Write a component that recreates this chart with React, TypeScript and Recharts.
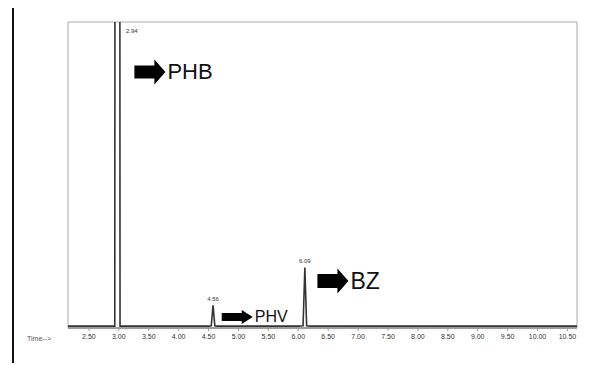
import { LineChart, Line, XAxis, YAxis, ReferenceArea, ReferenceDot } from "recharts"

// retention time (min) and detector response (% of plot height)
const times = [
  2.15, 2.5, 2.9, 2.932, 2.936, 3.016, 3.02, 3.04, 3.5, 4.0, 4.5, 4.545, 4.575, 4.605, 4.64,
  5.0, 5.5, 6.0, 6.08, 6.11, 6.14, 6.2, 7.0, 8.0, 9.0, 10.0, 10.66,
]
const response = [
  0.6, 0.6, 0.6, 0.6, 160, 160, 0.6, 0.6, 0.6, 0.6, 0.6, 0.7, 7.4, 0.7, 0.6,
  0.6, 0.6, 0.6, 0.7, 19.8, 0.7, 0.6, 0.6, 0.6, 0.6, 0.6, 0.6,
]

const xTicks = [2.5, 3.0, 3.5, 4.0, 4.5, 5.0, 5.5, 6.0, 6.5, 7.0, 7.5, 8.0, 8.5, 9.0, 9.5, 10.0, 10.5]

const peaks = [
  { t: 3.02, label: "2.94", y: 97 },
  { t: 4.575, label: "4.56", y: 7.4 },
  { t: 6.11, label: "6.09", y: 19.8 },
]

const compounds = [
  { name: "PHB", t: 3.26, y: 83.7, size: 22, head: 12.5, body: 6.5 },
  { name: "PHV", t: 4.72, y: 3.6, size: 16, head: 7, body: 4 },
  { name: "BZ", t: 6.32, y: 15.4, size: 23, head: 12.5, body: 7 },
]

const data = times.map((t, i) => ({ t, v: response[i] }))

const FONT = '"Liberation Sans", Arial, sans-serif'

function arrowShape(name: string, size: number, head: number, body: number) {
  return (props: any) => {
    const { cx, cy } = props
    const len = 31
    const neck = cx + 20
    const d = `M${cx},${cy - body} L${neck},${cy - body} L${neck},${cy - head} L${cx + len},${cy} L${neck},${cy + head} L${neck},${cy + body} L${cx},${cy + body} Z`
    return (
      <g>
        <path d={d} fill="#000" />
        <text x={cx + len + 2} y={cy} dominantBaseline="central" fontSize={size} fontFamily={FONT} fill="#111">
          {name}
        </text>
      </g>
    )
  }
}

export default function App() {
  return (
    <div style={{ position: "absolute", left: 0, top: 0, width: 599, height: 365, background: "#fff" }}>
      <div style={{ position: "absolute", left: 12, top: 8, width: 2, height: 355, background: "#111" }} />
      <div
        style={{
          position: "absolute",
          left: 27,
          top: 335,
          fontSize: 7,
          fontFamily: FONT,
          color: "#555",
        }}
      >
        Time--&gt;
      </div>
      <LineChart width={599} height={365} data={data} margin={{ top: 22, right: 22, bottom: 17, left: 68 }}>
        <XAxis
          dataKey="t"
          type="number"
          domain={[2.15, 10.66]}
          ticks={xTicks}
          allowDataOverflow
          height={20}
          tickSize={3}
          tickMargin={3}
          tickFormatter={(v: number) => v.toFixed(2)}
          tick={{ fontSize: 7, fill: "#333", fontFamily: FONT }}
          axisLine={{ stroke: "#666" }}
          tickLine={{ stroke: "#999" }}
        />
        <YAxis hide domain={[0, 100]} allowDataOverflow />
        <ReferenceArea x1={2.15} x2={10.66} y1={0} y2={100} fill="none" stroke="#aaa" strokeWidth={1} />
        <Line
          dataKey="v"
          type="linear"
          stroke="#333"
          strokeWidth={1.6}
          dot={false}
          isAnimationActive={false}
        />
        {peaks.map((p) => (
          <ReferenceDot
            key={p.label}
            x={p.t}
            y={p.y}
            r={0}
            stroke="none"
            label={{
              value: p.label,
              position: p.t < 3.1 ? "right" : "top",
              offset: p.t < 3.1 ? 6 : 4,
              fontSize: 6,
              fill: "#333",
              fontFamily: FONT,
            }}
          />
        ))}
        {compounds.map((c) => (
          <ReferenceDot
            key={c.name}
            x={c.t}
            y={c.y}
            r={0}
            shape={arrowShape(c.name, c.size, c.head, c.body)}
          />
        ))}
      </LineChart>
    </div>
  )
}
